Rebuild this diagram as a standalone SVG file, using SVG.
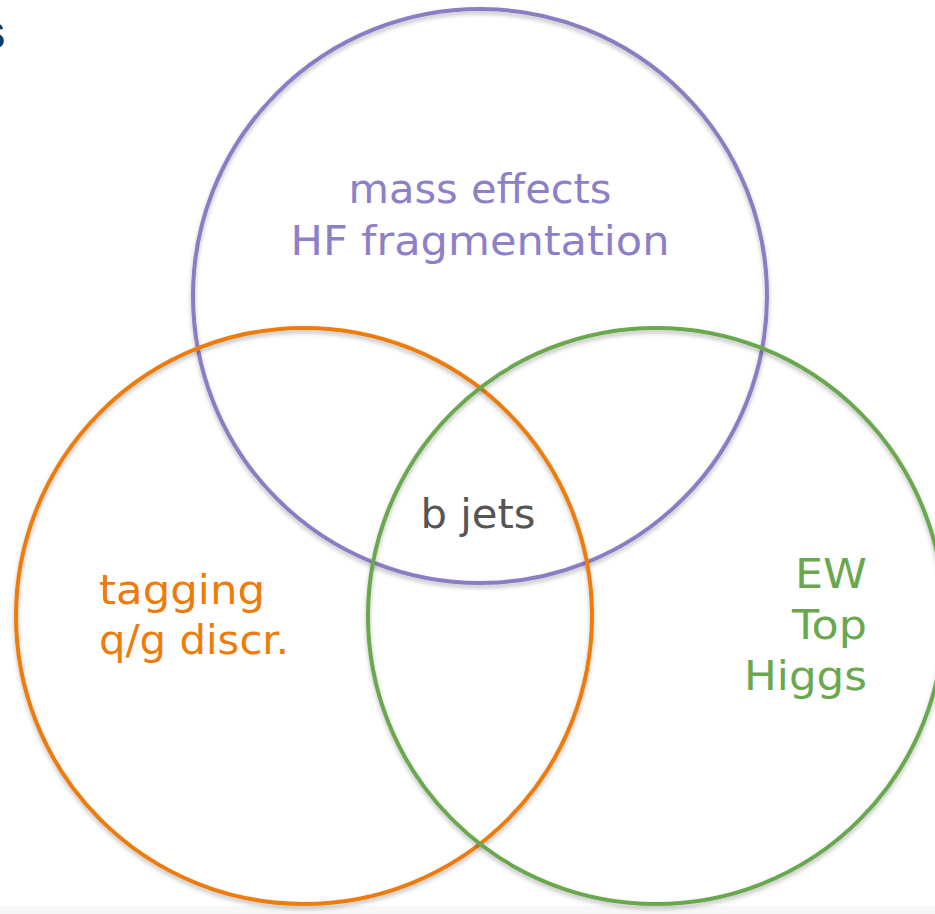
<svg xmlns="http://www.w3.org/2000/svg" width="935" height="914" viewBox="0 0 935 914">
<defs>
<filter id="sh" x="-10%" y="-10%" width="120%" height="120%">
<feDropShadow dx="0" dy="3" stdDeviation="2" flood-color="#000" flood-opacity="0.25"/>
</filter>
</defs>
<style>
.c{fill:none;stroke-width:4;filter:url(#sh)}
.t{font-family:"DejaVu Sans","Noto Sans",sans-serif;font-size:40px}
</style>
<rect width="935" height="914" fill="#ffffff"/>
<rect x="0" y="906" width="935" height="8" fill="#f7f7f7"/>
<text x="-22" y="49" font-family="Liberation Sans, sans-serif" font-weight="bold" font-size="50" fill="#0b3c6b">s</text>
<g id="circle-purple"><circle class="c" cx="480" cy="296" r="287" stroke="#8c7cc4"/></g>
<g id="circle-orange"><circle class="c" cx="304" cy="616" r="288" stroke="#ee7b0a"/></g>
<g id="circle-green"><circle class="c" cx="656" cy="616" r="288" stroke="#6aa84f"/></g>
<g id="label-purple" class="t" fill="#8e80c8" text-anchor="middle">
<text x="480" y="203" textLength="263" lengthAdjust="spacingAndGlyphs">mass effects</text>
<text x="480" y="255" textLength="379" lengthAdjust="spacingAndGlyphs">HF fragmentation</text>
</g>
<g id="label-center" class="t" fill="#555555" text-anchor="middle"><text x="478" y="528" textLength="115" lengthAdjust="spacingAndGlyphs">b jets</text></g>
<g id="label-orange" class="t" fill="#ee7b0a">
<text x="99" y="604" textLength="166" lengthAdjust="spacingAndGlyphs">tagging</text>
<text x="99" y="654" textLength="190" lengthAdjust="spacingAndGlyphs">q/g discr.</text>
</g>
<g id="label-green" class="t" fill="#6aa84f" text-anchor="end">
<text x="867" y="588" textLength="72" lengthAdjust="spacingAndGlyphs">EW</text>
<text x="867" y="639" textLength="75" lengthAdjust="spacingAndGlyphs">Top</text>
<text x="867" y="690" textLength="123" lengthAdjust="spacingAndGlyphs">Higgs</text>
</g>
</svg>
